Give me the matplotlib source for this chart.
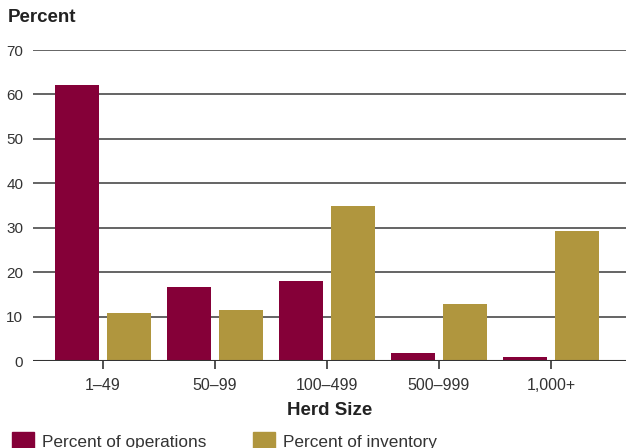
import matplotlib
matplotlib.use("Agg")
import numpy as np
import matplotlib.pyplot as plt
from matplotlib.patches import Rectangle

plt.rcParams['font.family'] = ['Liberation Sans', 'DejaVu Sans']

herd_sizes = ['1\u201349', '50\u201399', '100\u2013499', '500\u2013999', '1,000+']
pct_operations = [62.1, 16.7, 18.0, 1.8, 0.9]
pct_inventory = [10.8, 11.5, 34.9, 12.8, 29.3]
series_names = ['Percent of operations', 'Percent of inventory']

maroon = '#850038'
gold = '#b0963e'
dark = '#333333'

fig = plt.figure(figsize=(6.26, 4.48), dpi=100)
ax = fig.add_axes([33 / 626, 87 / 448, 593 / 626, 311 / 448])

x = np.arange(len(herd_sizes))
w = 0.393
ax.bar(x - 0.232, pct_operations, w, color=maroon, zorder=3)
ax.bar(x + 0.232, pct_inventory, w, color=gold, zorder=3)

ax.set_xlim(-0.625, 4.67)
ax.set_ylim(0, 70)
ax.set_yticks(range(0, 71, 10))
for v in range(10, 71, 10):
    ax.axhline(v, color='#4a4a4a', lw=1.2, zorder=2)
ax.axhline(0, color=dark, lw=1.5, zorder=4)

for s in ax.spines.values():
    s.set_visible(False)

ax.set_xticks(x)
ax.set_xticklabels(herd_sizes, fontsize=11.5, color=dark)
ax.tick_params(axis='x', length=6, width=1.2, color=dark, pad=6)
ax.tick_params(axis='y', length=0, pad=7, labelsize=11, labelcolor=dark)

ax.set_xlabel('Herd Size', fontsize=13.5, fontweight='bold', color='#222222', labelpad=7)
fig.text(8 / 626, 1 - 18 / 448, 'Percent', fontsize=13.5, fontweight='bold',
         color='#222222', va='center', ha='left')

# legend along the bottom edge
for i, (name, col) in enumerate(zip(series_names, [maroon, gold])):
    x0 = [12, 253][i]
    fig.patches.append(Rectangle((x0 / 626, 0), 22 / 626, 16 / 448,
                                 transform=fig.transFigure, color=col))
    fig.text((x0 + 30) / 626, 6 / 448, name, fontsize=12.4, color=dark,
             va='center', ha='left')

fig.savefig('out.png', dpi=100)
